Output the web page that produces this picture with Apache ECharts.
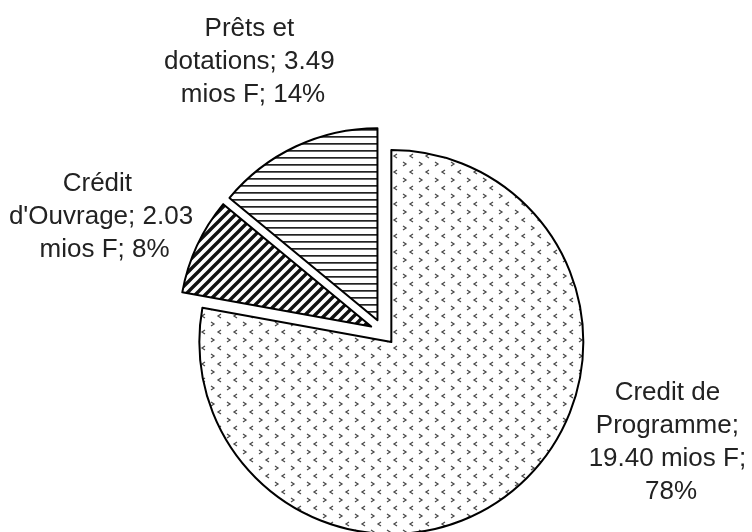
<!DOCTYPE html>
<html>
<head>
<meta charset="utf-8">
<script src="https://cdn.jsdelivr.net/npm/echarts@6/dist/echarts.min.js"></script>
<style>
  html, body { margin: 0; padding: 0; background: #fff; }
  #chart { width: 752px; height: 532px; }
</style>
</head>
<body>
<div id="chart"></div>
<script>
// données
var categories = ['Credit de Programme', "Crédit d'Ouvrage", 'Prêts et dotations']
var values = [19.40, 2.03, 3.49]
var unit = 'mios F'
// position des étiquettes (centre du bloc de texte)
var labelPos = [[671, 442], [101, 217], [253, 62]]

var pieCenter = [383, 332]
var pieRadius = 192
var explode = 13

function makeTile (w, h, draw) {
  var c = document.createElement('canvas')
  c.width = w
  c.height = h
  var ctx = c.getContext('2d')
  ctx.fillStyle = '#fff'
  ctx.fillRect(0, 0, w, h)
  draw(ctx)
  return { image: c, repeat: 'repeat' }
}

// petits chevrons gris
var dots = makeTile(16, 16, function (ctx) {
  ctx.strokeStyle = '#4a4a4a'
  ctx.lineWidth = 1.3
  ctx.beginPath()
  ctx.moveTo(3, 2); ctx.lineTo(6, 4); ctx.lineTo(3, 6)
  ctx.moveTo(13, 10); ctx.lineTo(10, 12); ctx.lineTo(13, 14)
  ctx.stroke()
})
// hachures diagonales
var diag = makeTile(10, 10, function (ctx) {
  ctx.strokeStyle = '#111'
  ctx.lineWidth = 3.4
  ctx.beginPath()
  ctx.moveTo(-2, 12); ctx.lineTo(12, -2)
  ctx.moveTo(-7, 7); ctx.lineTo(7, -7)
  ctx.moveTo(3, 17); ctx.lineTo(17, 3)
  ctx.stroke()
})
// hachures horizontales
var horiz = makeTile(8, 7, function (ctx) {
  ctx.fillStyle = '#222'
  ctx.fillRect(0, 3, 8, 1.7)
})
var patterns = [dots, diag, horiz]

var total = values.reduce(function (a, b) { return a + b }, 0)

// une série par part, décalée le long de sa bissectrice (part éclatée)
var series = []
var cum = 0
values.forEach(function (v, k) {
  var mid = (cum + v / 2) / total * 2 * Math.PI
  cum += v
  var cx = pieCenter[0] + explode * Math.sin(mid)
  var cy = pieCenter[1] - explode * Math.cos(mid)
  series.push({
    type: 'pie',
    center: [cx, cy],
    radius: pieRadius,
    startAngle: 90,
    clockwise: true,
    animation: false,
    avoidLabelOverlap: false,
    emphasis: { disabled: true },
    silent: true,
    label: {
      show: true,
      position: 'outside',
      fontFamily: 'Liberation Sans, Arial, sans-serif',
      fontSize: 26,
      lineHeight: 33,
      color: '#222',
      align: 'center',
      width: 190,
      overflow: 'break',
      formatter: function (p) {
        return p.name + '; ' + p.value.toFixed(2) + ' ' + unit + '; ' + Math.round(p.percent) + '%'
      }
    },
    labelLine: { show: false },
    labelLayout: function (p) {
      var pos = labelPos[p.dataIndex]
      return { x: pos[0], y: pos[1], align: 'center', verticalAlign: 'middle' }
    },
    data: categories.map(function (name, i) {
      var shown = i === k
      return {
        name: name,
        value: values[i],
        itemStyle: shown
          ? { color: patterns[i], borderColor: '#000', borderWidth: 2 }
          : { color: 'rgba(0,0,0,0)', borderWidth: 0 },
        label: { show: shown }
      }
    })
  })
})

var myChart = echarts.init(document.getElementById('chart'))
myChart.setOption({
  backgroundColor: '#fff',
  animation: false,
  series: series
})
</script>
</body>
</html>
